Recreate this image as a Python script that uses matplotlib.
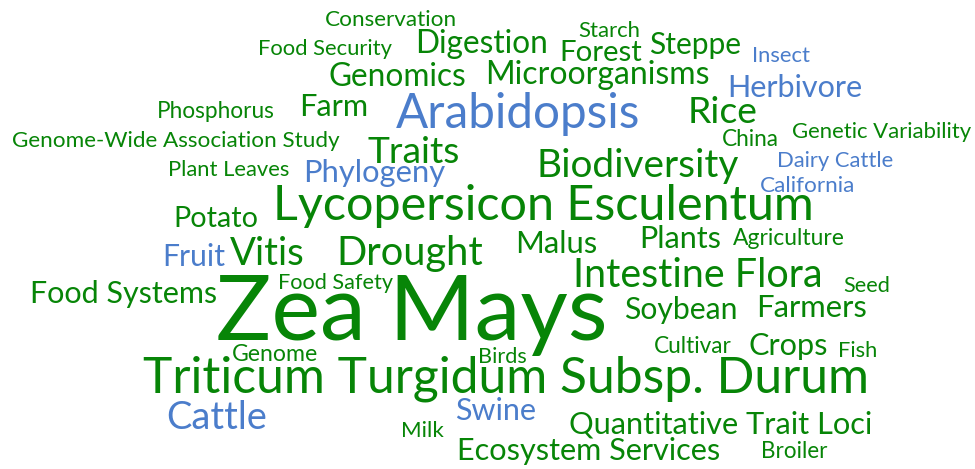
import matplotlib
matplotlib.use("Agg")
import matplotlib.pyplot as plt

# words of the cloud and their colour group (0 = green, 1 = blue)
words = ["Conservation", "Food Security", "Digestion", "Starch", "Forest", "Steppe", "Insect",
         "Genomics", "Microorganisms", "Herbivore", "Phosphorus", "Farm", "Arabidopsis", "Rice",
         "Genome-Wide Association Study", "China", "Genetic Variability", "Traits", "Biodiversity",
         "Dairy Cattle", "Plant Leaves", "Phylogeny", "California", "Potato", "Lycopersicon Esculentum",
         "Fruit", "Vitis", "Drought", "Malus", "Plants", "Agriculture", "Food Safety", "Intestine Flora",
         "Seed", "Food Systems", "Zea Mays", "Soybean", "Farmers", "Genome", "Birds", "Cultivar",
         "Crops", "Fish", "Triticum Turgidum Subsp. Durum", "Swine", "Cattle", "Milk",
         "Quantitative Trait Loci", "Ecosystem Services", "Broiler"]
group = [0, 0, 0, 0, 0, 0, 1,
         0, 0, 1, 0, 0, 1, 0,
         0, 0, 0, 0, 0,
         1, 0, 1, 1, 0, 0,
         1, 0, 0, 0, 0, 0, 0, 0,
         0, 0, 0, 0, 0, 0, 0, 0,
         0, 0, 0, 1, 1, 0,
         0, 0, 0]

# layout: left edge, right edge, baseline (pixels)
x_left = [325, 258, 415, 578, 559, 649, 752,
          329, 485, 727, 157, 299, 396, 688,
          12, 722, 792, 367, 537,
          777, 168, 303, 760, 173, 273,
          162, 230, 336, 515, 639, 733, 278, 573,
          843, 30, 216, 624, 756, 232, 478, 654,
          748, 838, 143, 455, 166, 401,
          569, 457, 761]
x_right = [457, 393, 548, 640, 642, 742, 810,
           467, 710, 863, 275, 368, 642, 758,
           340, 779, 972, 460, 740,
           893, 289, 445, 855, 258, 815,
           225, 305, 483, 597, 721, 845, 393, 823,
           890, 218, 607, 738, 867, 318, 527, 732,
           828, 877, 870, 536, 267, 444,
           873, 720, 828]
base_y = [26, 55, 53, 37, 61, 54, 62,
          86, 84, 97, 118, 116, 128, 123,
          147, 146, 138, 163, 177,
          167, 176, 182, 192, 227, 220,
          266, 265, 265, 253, 248, 245, 289, 287,
          292, 303, 340, 319, 317, 361, 363, 353,
          355, 357, 392, 420, 429, 437,
          433, 460, 458]

colors = ["#078507", "#4b7dcb"]

W, H = 975, 469
fig = plt.figure(figsize=(W / 100, H / 100), dpi=100)
ax = fig.add_axes([0, 0, 1, 1])
ax.set_xlim(0, W)
ax.set_ylim(H, 0)
ax.axis("off")

# size each word so it spans its slot
renderer = fig.canvas.get_renderer()
for i, w in enumerate(words):
    t = ax.text(x_left[i], base_y[i], w, fontsize=10, family="Lato",
                color=colors[group[i]], ha="left", va="baseline")
    wpx = t.get_window_extent(renderer).width
    t.set_fontsize(10 * (x_right[i] - x_left[i]) / wpx)

fig.savefig("out.png", dpi=100)
